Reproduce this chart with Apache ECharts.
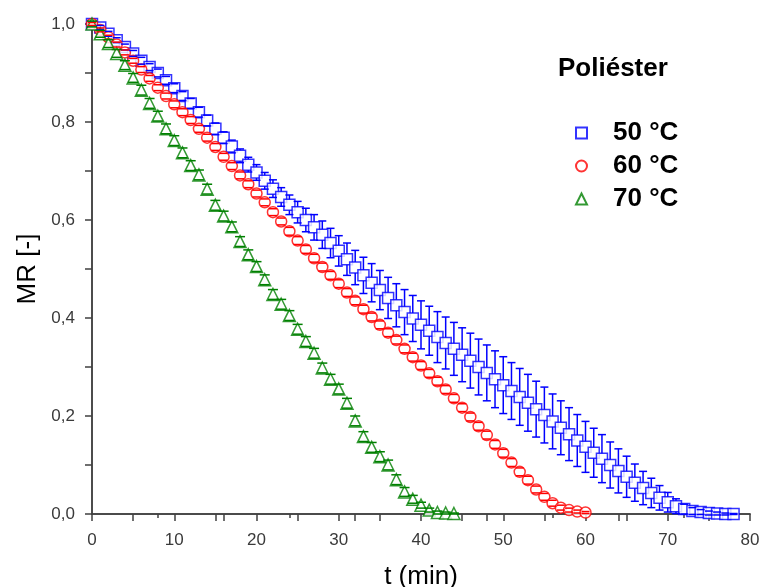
<!DOCTYPE html>
<html>
<head>
<meta charset="utf-8">
<script src="https://cdn.jsdelivr.net/npm/echarts@6/dist/echarts.min.js"></script>
<style>html,body{margin:0;padding:0;background:#fff}#c{width:761px;height:587px}</style>
</head>
<body>
<div id="c"></div>
<script>
// ---- data ----
const seriesNames = ['50 °C', '60 °C', '70 °C'];
const legendTitle = 'Poliéster';
const xTicks = [0, 10, 20, 30, 40, 50, 60, 70, 80];
const yTicks = [0.0, 0.2, 0.4, 0.6, 0.8, 1.0];

const t50 = [0,1,2,3,4,5,6,7,8,9,10,11,12,13,14,15,16,17,18,19,20,21,22,23,24,25,26,27,28,29,30,31,32,33,34,35,36,37,38,39,40,41,42,43,44,45,46,47,48,49,50,51,52,53,54,55,56,57,58,59,60,61,62,63,64,65,66,67,68,69,70,71,72,73,74,75,76,77,78];
const mr50 = [1.000,0.993,0.980,0.967,0.953,0.940,0.925,0.912,0.900,0.885,0.869,0.853,0.838,0.820,0.803,0.786,0.768,0.750,0.731,0.713,0.697,0.680,0.664,0.647,0.631,0.616,0.600,0.585,0.570,0.553,0.537,0.520,0.503,0.487,0.472,0.457,0.441,0.426,0.412,0.399,0.386,0.374,0.361,0.349,0.337,0.325,0.313,0.300,0.288,0.275,0.263,0.251,0.239,0.227,0.214,0.202,0.189,0.176,0.163,0.150,0.137,0.125,0.113,0.100,0.088,0.076,0.064,0.053,0.043,0.033,0.024,0.016,0.010,0.006,0.004,0.002,0.001,0.000,0.000];
const err50 = [0.004,0.004,0.005,0.005,0.006,0.006,0.007,0.007,0.008,0.008,0.009,0.009,0.010,0.010,0.011,0.012,0.012,0.013,0.014,0.015,0.016,0.017,0.018,0.019,0.020,0.022,0.024,0.026,0.028,0.030,0.031,0.033,0.035,0.037,0.039,0.040,0.042,0.044,0.046,0.047,0.049,0.050,0.052,0.053,0.054,0.055,0.056,0.057,0.057,0.058,0.058,0.058,0.058,0.058,0.057,0.057,0.056,0.055,0.054,0.053,0.052,0.050,0.049,0.047,0.045,0.042,0.038,0.034,0.030,0.025,0.020,0.015,0.010,0.007,0.005,0.004,0.003,0.002,0.001];

const t60 = [0,1,2,3,4,5,6,7,8,9,10,11,12,13,14,15,16,17,18,19,20,21,22,23,24,25,26,27,28,29,30,31,32,33,34,35,36,37,38,39,40,41,42,43,44,45,46,47,48,49,50,51,52,53,54,55,56,57,58,59,60];
const mr60 = [1.000,0.988,0.973,0.958,0.942,0.925,0.907,0.889,0.870,0.853,0.836,0.820,0.804,0.786,0.768,0.749,0.729,0.710,0.691,0.673,0.654,0.636,0.616,0.597,0.577,0.558,0.540,0.522,0.504,0.487,0.470,0.452,0.435,0.418,0.402,0.386,0.370,0.355,0.337,0.320,0.303,0.287,0.271,0.254,0.236,0.217,0.198,0.179,0.161,0.142,0.124,0.105,0.086,0.069,0.050,0.035,0.022,0.013,0.008,0.005,0.003];
const err60 = [0.003,0.004,0.004,0.005,0.005,0.005,0.006,0.006,0.006,0.006,0.007,0.007,0.007,0.007,0.007,0.007,0.007,0.007,0.007,0.007,0.007,0.007,0.007,0.007,0.008,0.008,0.008,0.008,0.008,0.008,0.008,0.008,0.008,0.008,0.008,0.008,0.008,0.008,0.008,0.008,0.008,0.008,0.008,0.008,0.008,0.008,0.008,0.008,0.008,0.008,0.008,0.008,0.008,0.008,0.007,0.007,0.006,0.005,0.004,0.003,0.002];

const t70 = [0,1,2,3,4,5,6,7,8,9,10,11,12,13,14,15,16,17,18,19,20,21,22,23,24,25,26,27,28,29,30,31,32,33,34,35,36,37,38,39,40,41,42,43,44];
const mr70 = [1.000,0.980,0.960,0.940,0.916,0.890,0.865,0.838,0.812,0.786,0.762,0.737,0.711,0.692,0.663,0.630,0.608,0.586,0.556,0.529,0.505,0.478,0.448,0.428,0.405,0.377,0.352,0.328,0.298,0.275,0.255,0.226,0.190,0.158,0.136,0.117,0.100,0.070,0.045,0.030,0.018,0.008,0.003,0.002,0.001];
const err70 = [0.006,0.007,0.008,0.008,0.009,0.009,0.010,0.010,0.010,0.010,0.010,0.010,0.010,0.010,0.010,0.010,0.010,0.010,0.010,0.010,0.010,0.010,0.010,0.010,0.010,0.010,0.010,0.010,0.010,0.010,0.010,0.010,0.010,0.010,0.010,0.010,0.010,0.010,0.009,0.008,0.006,0.004,0.003,0.002,0.001];

// ---- chart ----
const colors = ['#0000ff', '#ff0000', '#008000'];
const symbols = ['rect', 'circle', 'triangle'];
const sizes = [11, 11, 12];
const caps = [8, 8, 10];
const tList = [t50, t60, t70], mList = [mr50, mr60, mr70], eList = [err50, err60, err70];

const chart = echarts.init(document.getElementById('c'), null, {renderer: 'canvas'});
const axisColor = '#404040';
const labelColor = '#3a3a3a';
const fmtNum = v => v.toFixed(1).replace('.', ',');

function errSeries(i) {
  const color = colors[i], half = caps[i] / 2, hs = sizes[i] / 2;
  return {
    type: 'custom',
    name: 'err' + i,
    xAxisIndex: 0, yAxisIndex: 0,
    silent: true,
    z: 4,
    data: tList[i].map((t, k) => [t, mList[i][k], eList[i][k]]),
    renderItem(params, api) {
      const x = api.value(0), y = api.value(1), e = api.value(2);
      const c = api.coord([x, y]);
      const top = api.coord([x, y + e]);
      const bot = api.coord([x, y - e]);
      const st = {stroke: color, lineWidth: 1.5};
      const ch = [
        {type: 'line', shape: {x1: top[0] - half, y1: top[1], x2: top[0] + half, y2: top[1]}, style: st},
        {type: 'line', shape: {x1: bot[0] - half, y1: bot[1], x2: bot[0] + half, y2: bot[1]}, style: st}
      ];
      if (top[1] < c[1] - hs) ch.push({type: 'line', shape: {x1: c[0], y1: top[1], x2: c[0], y2: c[1] - hs}, style: st});
      if (bot[1] > c[1] + hs) ch.push({type: 'line', shape: {x1: c[0], y1: c[1] + hs, x2: c[0], y2: bot[1]}, style: st});
      return {type: 'group', children: ch};
    }
  };
}

function markSeries(i) {
  return {
    type: 'scatter',
    name: seriesNames[i],
    xAxisIndex: 0, yAxisIndex: 0,
    symbol: symbols[i],
    symbolSize: sizes[i],
    z: 3,
    itemStyle: {color: '#ffffff', borderColor: colors[i], borderWidth: 1.5},
    data: tList[i].map((t, k) => [t, mList[i][k]])
  };
}

const series = [];
for (let i = 0; i < 3; i++) series.push(markSeries(i));
for (let i = 0; i < 3; i++) series.push(errSeries(i));

chart.setOption({
  backgroundColor: '#fff',
  animation: false,
  title: {
    text: legendTitle,
    left: 553, top: 51,
    textStyle: {fontFamily: 'Liberation Sans', fontWeight: 'bold', fontSize: 26, color: '#000'}
  },
  legend: {
    data: seriesNames,
    orient: 'vertical',
    left: 570, top: 115,
    itemWidth: 11, itemHeight: 11,
    itemGap: 7,
    textStyle: {fontFamily: 'Liberation Sans', fontWeight: 'bold', fontSize: 26, color: '#000', padding: [0, 0, 0, 21]}
  },
  grid: {left: 92, right: 11, top: 24, bottom: 73, containLabel: false, outerBoundsMode: 'none'},
  xAxis: [
    {
      type: 'value', position: 'bottom', min: xTicks[0], max: xTicks[xTicks.length - 1], interval: 10,
      name: 't (min)', nameLocation: 'middle', nameGap: 50,
      nameTextStyle: {fontFamily: 'Liberation Sans', fontSize: 26, color: '#000'},
      axisLine: {show: true, lineStyle: {color: axisColor, width: 1.5}},
      axisTick: {show: true, inside: false, length: 7, lineStyle: {color: axisColor, width: 1.5}},
      minorTick: {show: true, splitNumber: 2, length: 7, lineStyle: {color: axisColor, width: 1.5}},
      axisLabel: {margin: 18, fontFamily: 'Liberation Sans', fontSize: 17, color: labelColor},
      splitLine: {show: false}, minorSplitLine: {show: false}
    },
    {
      type: 'value', position: 'top', min: 0, max: 80, interval: 16,
      axisLine: {show: true, lineStyle: {color: axisColor, width: 1.5}},
      axisTick: {show: true, inside: true, length: 7, lineStyle: {color: axisColor, width: 1.5}},
      minorTick: {show: true, splitNumber: 2, length: 4, lineStyle: {color: axisColor, width: 1.5}},
      axisLabel: {show: false},
      splitLine: {show: false}, minorSplitLine: {show: false}
    }
  ],
  yAxis: [
    {
      type: 'value', position: 'left', min: yTicks[0], max: yTicks[yTicks.length - 1], interval: 0.2,
      name: 'MR [-]', nameLocation: 'middle', nameGap: 51, nameRotate: 90,
      nameTextStyle: {fontFamily: 'Liberation Sans', fontSize: 26, color: '#000'},
      axisLine: {show: true, lineStyle: {color: axisColor, width: 1.5}},
      axisTick: {show: true, inside: false, length: 7, lineStyle: {color: axisColor, width: 1.5}},
      minorTick: {show: true, splitNumber: 2, length: 7, lineStyle: {color: axisColor, width: 1.5}},
      axisLabel: {margin: 17, fontFamily: 'Liberation Sans', fontSize: 17, color: labelColor, formatter: fmtNum},
      splitLine: {show: false}, minorSplitLine: {show: false}
    },
    {
      type: 'value', position: 'right', min: 0, max: 1, interval: 0.2,
      axisLine: {show: true, lineStyle: {color: axisColor, width: 1.5}},
      axisTick: {show: true, inside: true, length: 7, lineStyle: {color: axisColor, width: 1.5}},
      minorTick: {show: true, splitNumber: 2, length: 4, lineStyle: {color: axisColor, width: 1.5}},
      axisLabel: {show: false},
      splitLine: {show: false}, minorSplitLine: {show: false}
    }
  ],
  series: series
});
</script>
</body>
</html>
